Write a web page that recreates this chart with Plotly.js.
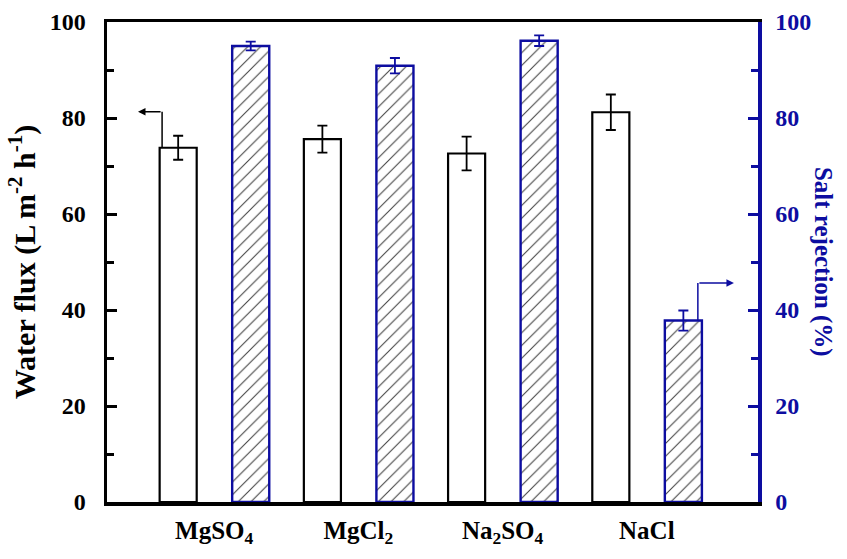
<!DOCTYPE html>
<html>
<head>
<meta charset="utf-8">
<script src="https://cdn.plot.ly/plotly-3.0.1.min.js"></script>
<style>html,body{margin:0;padding:0;background:#fff;}#chart{width:847px;height:559px;}</style>
</head>
<body>
<div id="chart"></div>
<script>
var categories = ['MgSO<sub>4</sub>', 'MgCl<sub>2</sub>', 'Na<sub>2</sub>SO<sub>4</sub>', 'NaCl'];
var waterFlux = [73.8, 75.6, 72.6, 81.2];
var waterFluxErr = [2.5, 2.8, 3.5, 3.7];
var saltRejection = [95.0, 90.9, 96.1, 37.8];
var saltRejectionErr = [0.9, 1.6, 1.1, 2.1];
var fluxArrowLevel = 81.3;
var rejArrowLevel = 45.6;

var BLUE = '#0d0da0';
var FONT = '"Liberation Serif", "Times New Roman", serif';
var idx = categories.map(function(_, i){ return i; });

var traces = [
  {
    type: 'bar', x: idx, y: waterFlux, yaxis: 'y', name: 'Water flux',
    width: 0.257, offset: -0.378,
    marker: {color: 'white', line: {color: 'black', width: 2.2}},
    error_y: {type: 'data', array: waterFluxErr, visible: true, color: 'black', thickness: 1.8, width: 5}
  },
  {
    type: 'bar', x: idx, y: saltRejection, yaxis: 'y2', name: 'Salt rejection',
    width: 0.257, offset: 0.125,
    marker: {color: 'white', line: {color: BLUE, width: 2.4},
      pattern: {shape: '/', fgcolor: '#444', bgcolor: 'white', size: 9, solidity: 0.12}},
    error_y: {type: 'data', array: saltRejectionErr, visible: true, color: BLUE, thickness: 1.8, width: 5}
  }
];

var layout = {
  width: 847, height: 559,
  margin: {l: 107, r: 89, t: 22, b: 57},
  paper_bgcolor: 'white', plot_bgcolor: 'white',
  showlegend: false,
  font: {family: FONT, size: 23, color: 'black', weight: 700},
  xaxis: {
    range: [-0.743, 3.771], tickvals: idx, ticktext: categories,
    showgrid: false, zeroline: false, ticks: '',
    showline: true, linecolor: 'black', linewidth: 3.5, mirror: true,
    tickfont: {family: FONT, size: 25, color: 'black', weight: 700},
    ticklabelstandoff: 3
  },
  yaxis: {
    range: [0, 100], dtick: 20, showgrid: false, zeroline: false,
    ticks: 'inside', ticklen: 10, tickwidth: 3, tickcolor: 'black',
    minor: {dtick: 10, ticks: 'inside', ticklen: 7, tickwidth: 3, tickcolor: 'black'},
    showline: true, linecolor: 'black', linewidth: 3.5,
    tickfont: {family: FONT, size: 24, color: 'black', weight: 700},
    ticklabelstandoff: 13,
    title: {text: 'Water flux (L m<sup>-2</sup> h<sup>-1</sup>)', standoff: 6,
      font: {family: FONT, size: 30, color: 'black', weight: 700}}
  },
  yaxis2: {
    range: [0, 100], dtick: 20, overlaying: 'y', side: 'right',
    showgrid: false, zeroline: false,
    ticks: 'inside', ticklen: 10, tickwidth: 3, tickcolor: BLUE,
    minor: {dtick: 10, ticks: 'inside', ticklen: 7, tickwidth: 3, tickcolor: BLUE},
    showline: true, linecolor: BLUE, linewidth: 3.5,
    tickfont: {family: FONT, size: 24, color: BLUE, weight: 700},
    ticklabelstandoff: 9
  },
  shapes: [
    {type: 'line', xref: 'x', yref: 'y', x0: -0.361, x1: -0.361, y0: waterFlux[0], y1: fluxArrowLevel,
      line: {color: 'black', width: 1.5}},
    {type: 'line', xref: 'x', yref: 'y2', x0: 3.354, x1: 3.354, y0: saltRejection[3], y1: rejArrowLevel,
      line: {color: BLUE, width: 1.5}}
  ],
  annotations: [
    {xref: 'x', yref: 'y', x: -0.528, y: fluxArrowLevel, axref: 'x', ayref: 'y', ax: -0.361, ay: fluxArrowLevel,
      showarrow: true, arrowhead: 2, arrowsize: 1, arrowwidth: 1.5, arrowcolor: 'black', text: ''},
    {xref: 'x', yref: 'y2', x: 3.604, y: rejArrowLevel, axref: 'x', ayref: 'y2', ax: 3.354, ay: rejArrowLevel,
      showarrow: true, arrowhead: 2, arrowsize: 1, arrowwidth: 1.5, arrowcolor: BLUE, text: ''},
    {xref: 'paper', yref: 'paper', x: 1.1, y: 0.5, xanchor: 'center', yanchor: 'middle',
      text: 'Salt rejection (%)', textangle: 90, showarrow: false,
      font: {family: FONT, size: 25, color: BLUE, weight: 700}}
  ]
};

Plotly.newPlot('chart', traces, layout, {displayModeBar: false, staticPlot: true});
</script>
</body>
</html>
